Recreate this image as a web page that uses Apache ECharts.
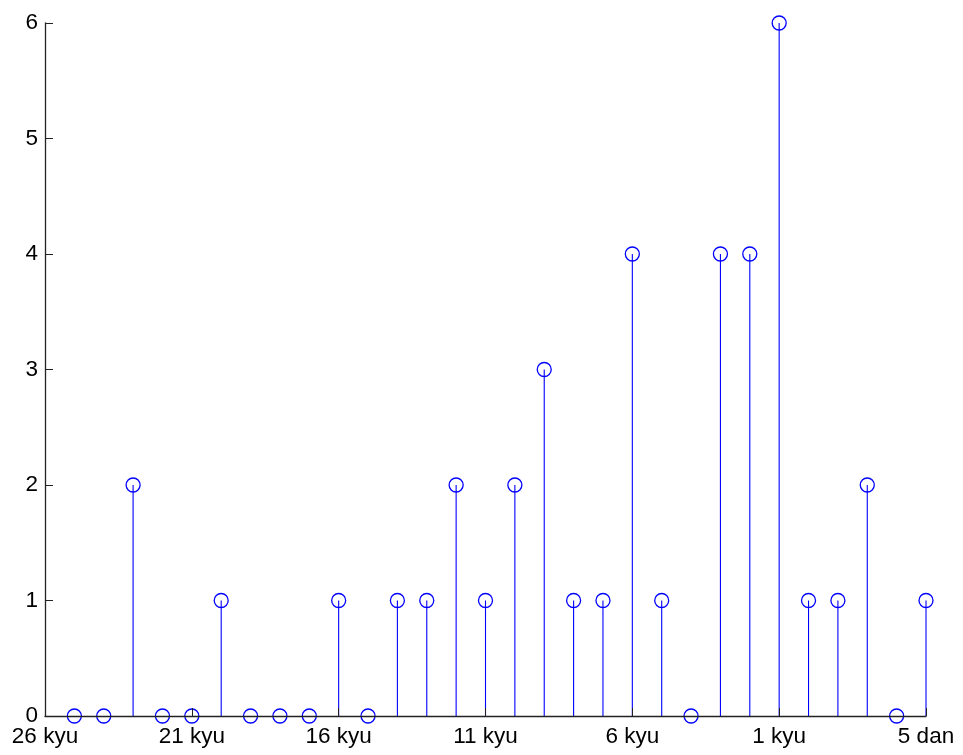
<!DOCTYPE html>
<html>
<head>
<meta charset="utf-8">
<script src="https://cdn.jsdelivr.net/npm/echarts@6/dist/echarts.min.js"></script>
<style>
  html, body { margin: 0; padding: 0; background: #fff; }
  #chart { width: 963px; height: 755px; }
</style>
</head>
<body>
<div id="chart"></div>
<script>
// Rank scale: position 0 = 26 kyu ... position 25 = 1 kyu, 26..30 = 1..5 dan
const ranks = [
  '26 kyu','25 kyu','24 kyu','23 kyu','22 kyu','21 kyu','20 kyu','19 kyu','18 kyu','17 kyu',
  '16 kyu','15 kyu','14 kyu','13 kyu','12 kyu','11 kyu','10 kyu','9 kyu','8 kyu','7 kyu',
  '6 kyu','5 kyu','4 kyu','3 kyu','2 kyu','1 kyu','1 dan','2 dan','3 dan','4 dan','5 dan'
];
// Player counts from 25 kyu (position 1) to 5 dan (position 30)
const counts = [0, 0, 2, 0, 0, 1, 0, 0, 0, 1, 0, 1, 1, 2, 1, 2, 3, 1, 1, 4, 1, 0, 4, 4, 6, 1, 1, 2, 0, 1];
const firstPos = 1;
const yTicks = [0, 1, 2, 3, 4, 5, 6];

const stemData = counts.map((v, i) => [firstPos + i, v]);

const chart = echarts.init(document.getElementById('chart'));
const font = { fontFamily: 'Liberation Sans, Arial, sans-serif', fontSize: 22.5, color: '#000' };

chart.setOption({
  animation: false,
  backgroundColor: '#fff',
  grid: { left: 45, right: 37, top: 23, bottom: 39, containLabel: false, z: 5 },
  xAxis: {
    type: 'value',
    z: 5,
    min: 0, max: ranks.length - 1, interval: 5,
    axisLine: { show: true, lineStyle: { color: '#222', width: 1.3 } },
    axisTick: { show: true, inside: true, length: 8, lineStyle: { color: '#222' } },
    splitLine: { show: false },
    axisLabel: Object.assign({ margin: 9, formatter: v => ranks[v] }, font)
  },
  yAxis: {
    type: 'value',
    z: 5,
    min: yTicks[0], max: yTicks[yTicks.length - 1], interval: 1,
    axisLine: { show: true, lineStyle: { color: '#222', width: 1.3 } },
    axisTick: { show: true, inside: true, length: 8, lineStyle: { color: '#222' } },
    splitLine: { show: false },
    axisLabel: Object.assign({ margin: 7 }, font)
  },
  series: [{
    type: 'custom',
    z: 1,
    clip: false,
    data: stemData,
    renderItem: function (params, api) {
      const x = api.value(0), y = api.value(1);
      const base = api.coord([x, 0]);
      const top = api.coord([x, y]);
      return {
        type: 'group',
        children: [
          {
            type: 'line',
            shape: { x1: base[0], y1: base[1], x2: top[0], y2: top[1] },
            style: { stroke: '#0000ff', lineWidth: 1.1 }
          },
          {
            type: 'circle',
            shape: { cx: top[0], cy: top[1], r: 7 },
            style: { stroke: '#0000ff', fill: null, lineWidth: 1.3 }
          }
        ]
      };
    }
  }]
});
</script>
</body>
</html>
